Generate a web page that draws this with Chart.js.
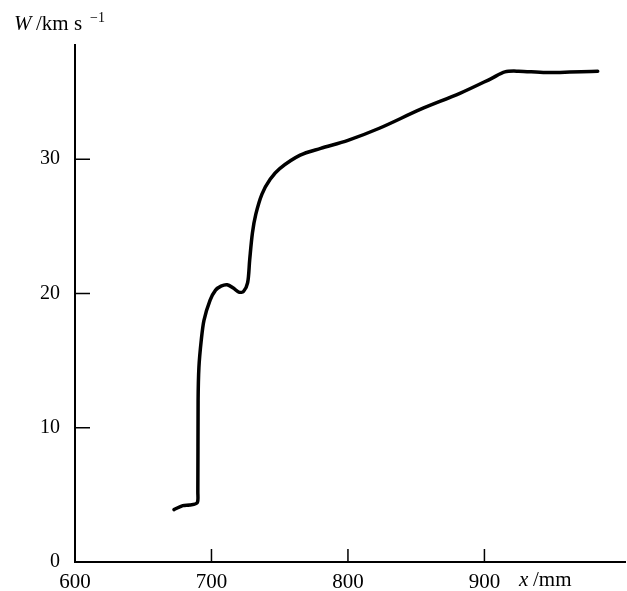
<!DOCTYPE html>
<html>
<head>
<meta charset="utf-8">
<script src="https://cdn.jsdelivr.net/npm/chart.js@4/dist/chart.umd.min.js"></script>
<style>
	html, body { margin: 0; padding: 0; background: #fff; }
	#wrap { width: 627px; height: 591px; }
</style>
</head>
<body>
<div id="wrap"><canvas id="chart"></canvas></div>
<script>
const xValues = [672.5, 679, 684, 689.5, 690, 690.2, 690.8, 692.5, 694.5, 699, 703, 707, 711.5, 716, 720, 723.5, 726.5, 728, 730, 732.5, 737, 743, 750, 765, 780, 800, 823, 853, 882, 905, 915, 925, 945, 983];
const wValues = [3.9, 4.2, 4.25, 4.4, 5.2, 12, 14.5, 16.5, 18.0, 19.5, 20.25, 20.55, 20.65, 20.4, 20.1, 20.15, 20.8, 22.5, 24.5, 25.9, 27.4, 28.5, 29.3, 30.3, 30.8, 31.4, 32.3, 33.7, 34.9, 36.0, 36.5, 36.55, 36.45, 36.55];
const xTicks = [600, 700, 800, 900];
const yTicks = [0, 10, 20, 30];

const serif = '"Liberation Serif", "DejaVu Serif", serif';

// ticks point inward, drawn from the scales
const inwardTicks = {
	id: "inwardTicks",
	afterDraw(chart) {
		const { ctx, chartArea, scales } = chart;
		ctx.save();
		ctx.strokeStyle = "#000";
		ctx.lineWidth = 1.5;
		ctx.beginPath();
		xTicks.forEach((v) => {
			if (v === 600) return;
			const px = scales.x.getPixelForValue(v);
			ctx.moveTo(px, chartArea.bottom);
			ctx.lineTo(px, chartArea.bottom - 13);
		});
		yTicks.forEach((v) => {
			if (v === 0) return;
			const py = scales.y.getPixelForValue(v);
			ctx.moveTo(chartArea.left, py);
			ctx.lineTo(chartArea.left + 15, py);
		});
		ctx.stroke();

		// axis titles
		ctx.fillStyle = "#000";
		ctx.textBaseline = "alphabetic";
		ctx.textAlign = "left";
		ctx.font = "italic 21px " + serif;
		ctx.fillText("W", 14, 30);
		ctx.font = "21px " + serif;
		ctx.fillText("/km s", 36, 30);
		ctx.font = "14px " + serif;
		ctx.fillText("\u22121", 90, 22);

		ctx.font = "italic 21px " + serif;
		ctx.fillText("x", 519, 586);
		ctx.font = "21px " + serif;
		ctx.fillText("/mm", 533, 586);
		ctx.restore();
	},
};

new Chart(document.getElementById("chart"), {
	type: "scatter",
	data: {
		datasets: [
			{
				data: xValues.map((x, i) => ({ x: x, y: wValues[i] })),
				showLine: true,
				borderColor: "#000",
				borderWidth: 3.5,
				pointRadius: 0,
				tension: 0.3,
				borderCapStyle: "round",
				borderJoinStyle: "round",
			},
		],
	},
	options: {
		responsive: true,
		maintainAspectRatio: false,
		animation: false,
		layout: { padding: { top: 45, right: 2, left: 0, bottom: 0 } },
		plugins: { legend: { display: false }, tooltip: { enabled: false } },
		scales: {
			x: {
				type: "linear",
				min: 600,
				max: 1003,
				afterBuildTicks: (s) => { s.ticks = xTicks.map((v) => ({ value: v })); },
				afterFit: (s) => { s.height = 29; },
				grid: { display: false },
				border: { color: "#000", width: 2 },
				ticks: { color: "#000", font: { family: serif, size: 21 }, padding: 0, maxRotation: 0 },
			},
			y: {
				min: 0,
				max: 38.5,
				afterBuildTicks: (s) => { s.ticks = yTicks.map((v) => ({ value: v })); },
				afterFit: (s) => { s.width = 75; },
				grid: { display: false },
				border: { color: "#000", width: 2 },
				ticks: { color: "#000", font: { family: serif, size: 20 }, padding: 7 },
			},
		},
	},
	plugins: [inwardTicks],
});
</script>
</body>
</html>
